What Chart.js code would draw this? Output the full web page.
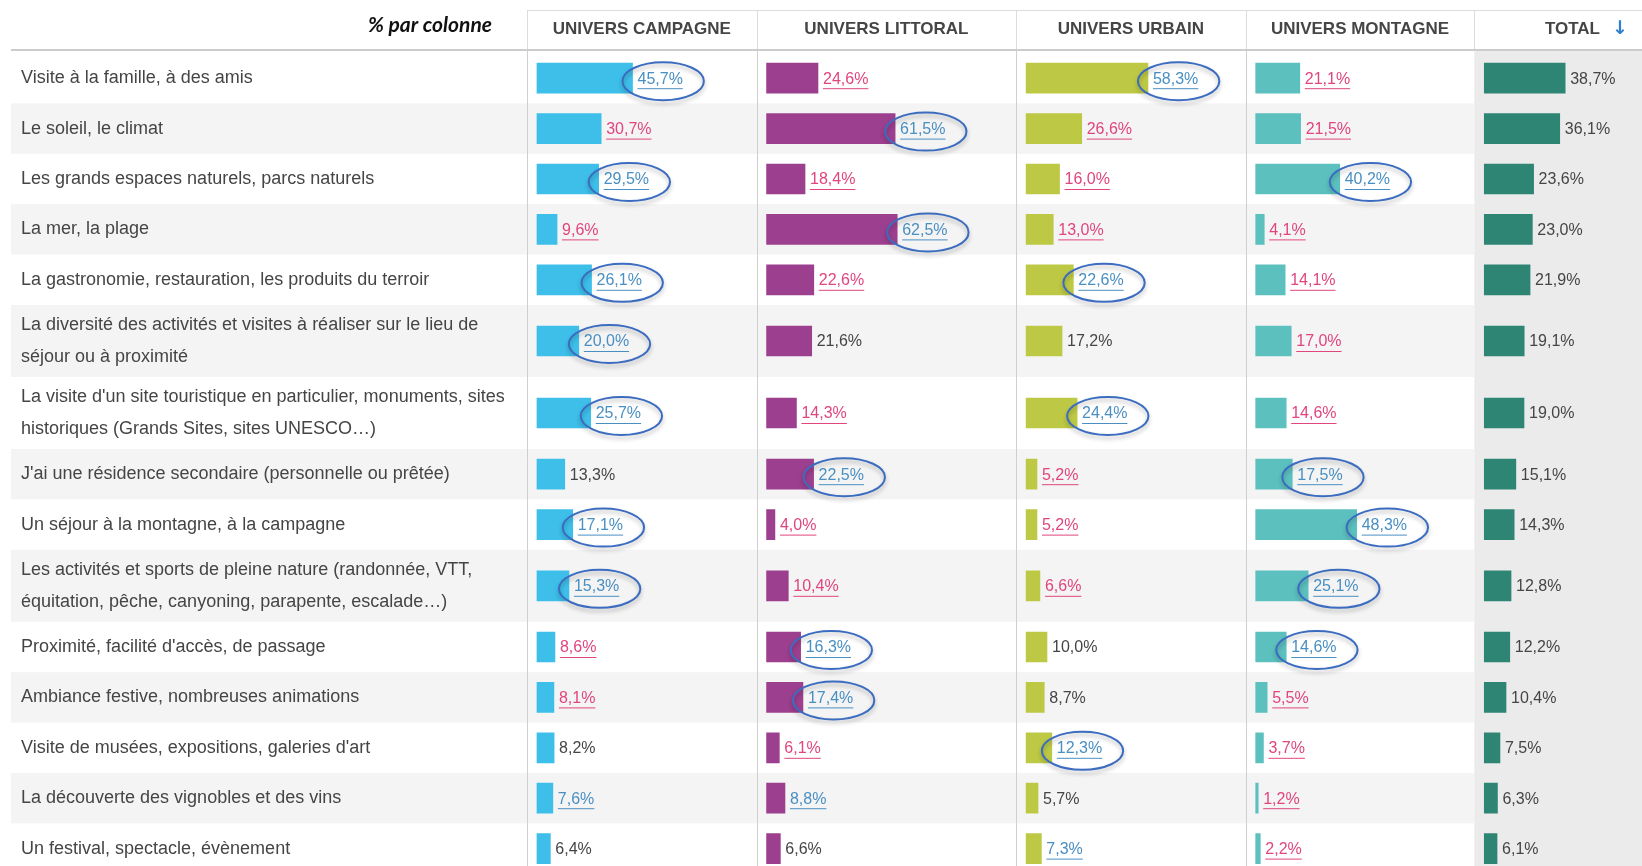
<!DOCTYPE html>
<html lang="fr">
<head>
<meta charset="utf-8">
<title>Motifs de séjour par univers</title>
<script src="https://cdn.jsdelivr.net/npm/chart.js@4.4.1/dist/chart.umd.min.js"></script>
<style>
  html, body { margin:0; padding:0; background:#fff; overflow:hidden; }
  #wrap { position:relative; width:1642px; height:866px; }
</style>
</head>
<body>
<div id="wrap"><canvas id="chart" width="1642" height="866"></canvas></div>
<script>
// --- données ---
const categories = [
  'Visite à la famille, à des amis',
  'Le soleil, le climat',
  'Les grands espaces naturels, parcs naturels',
  'La mer, la plage',
  'La gastronomie, restauration, les produits du terroir',
  ['La diversité des activités et visites à réaliser sur le lieu de', 'séjour ou à proximité'],
  ['La visite d\'un site touristique en particulier, monuments, sites', 'historiques (Grands Sites, sites UNESCO…)'],
  'J\'ai une résidence secondaire (personnelle ou prêtée)',
  'Un séjour à la montagne, à la campagne',
  ['Les activités et sports de pleine nature (randonnée, VTT,', 'équitation, pêche, canyoning, parapente, escalade…)'],
  'Proximité, facilité d\'accès, de passage',
  'Ambiance festive, nombreuses animations',
  'Visite de musées, expositions, galeries d\'art',
  'La découverte des vignobles et des vins',
  'Un festival, spectacle, évènement'
];
const columns  = ['UNIVERS CAMPAGNE', 'UNIVERS LITTORAL', 'UNIVERS URBAIN', 'UNIVERS MONTAGNE', 'TOTAL'];
const campagne = [45.7, 30.7, 29.5, 9.6, 26.1, 20.0, 25.7, 13.3, 17.1, 15.3, 8.6, 8.1, 8.2, 7.6, 6.4];
const littoral = [24.6, 61.5, 18.4, 62.5, 22.6, 21.6, 14.3, 22.5, 4.0, 10.4, 16.3, 17.4, 6.1, 8.8, 6.6];
const urbain   = [58.3, 26.6, 16.0, 13.0, 22.6, 17.2, 24.4, 5.2, 5.2, 6.6, 10.0, 8.7, 12.3, 5.7, 7.3];
const montagne = [21.1, 21.5, 40.2, 4.1, 14.1, 17.0, 14.6, 17.5, 48.3, 25.1, 14.6, 5.5, 3.7, 1.2, 2.2];
const total    = [38.7, 36.1, 23.6, 23.0, 21.9, 19.1, 19.0, 15.1, 14.3, 12.8, 12.2, 10.4, 7.5, 6.3, 6.1];
// o = entouré (sur-représenté), u = souligné bleu, d = souligné rose (sous-représenté), n = neutre
const marksCampagne = 'ododooonooddnun'.split('');
const marksLittoral = 'dododndoddoodun'.split('');
const marksUrbain   = 'odddonodddnnonu'.split('');
const marksMontagne = 'ddoddddoooodddd'.split('');
const marksTotal    = 'nnnnnnnnnnnnnnn'.split('');

const series = [campagne, littoral, urbain, montagne, total];
const marks  = [marksCampagne, marksLittoral, marksUrbain, marksMontagne, marksTotal];
const colors = ['#3dbfe9', '#9c3f8e', '#bdc944', '#5cc0bf', '#2e8574'];

// --- mise en page ---
const W = 1642, H = 866;
const BODY_TOP = 51, CHART_TOP = 53, ROW_H = 50.4, ROW_H2 = 72;
const LEFT_PAD = 21, LABEL_W = 506;
const PX_PER_PCT = 2.094, BAR_INSET = 10;
const colWidths = [230, 260, 230, 229, 168];
const FONT = "'Liberation Sans', Arial, sans-serif";

// hauteur de chaque ligne en unités de ligne simple
const rowUnits = categories.map(c => (Array.isArray(c) ? ROW_H2 : ROW_H) / ROW_H);
const rowBounds = [0];
rowUnits.forEach(u => rowBounds.push(rowBounds[rowBounds.length - 1] + u));
const rowCenters = rowUnits.map((u, i) => rowBounds[i] + u / 2);

const scales = {
  y: {
    type: 'linear', position: 'left', reverse: true, offset: false,
    min: 0, max: (H - CHART_TOP) / ROW_H,
    afterFit: s => { s.width = LABEL_W; s.paddingTop = 0; s.paddingBottom = 0; },
    afterBuildTicks: s => { s.ticks = rowCenters.map(v => ({ value: v })); },
    ticks: {
      autoSkip: false, crossAlign: 'far', padding: 0, color: '#454545',
      font: { family: FONT, size: 18, lineHeight: 1.8 },
      callback: (v, i) => categories[i]
    },
    grid: { display: false, offset: false }, border: { display: false }
  }
};
colWidths.forEach((w, k) => {
  const min = -BAR_INSET / PX_PER_PCT;
  scales['x' + k] = {
    type: 'linear', position: 'bottom', display: false, offset: false,
    stack: 'cols', stackWeight: w,
    min: min, max: min + w / PX_PER_PCT
  };
});

function fmt(v){ return v.toFixed(1).replace('.', ',') + '%'; }

const tablePlugin = {
  id: 'table',
  beforeDraw(chart){
    const ctx = chart.ctx, y = chart.scales.y;
    const xs = colWidths.map((w, k) => chart.scales['x' + k]);
    const totLeft = xs[4].left;
    ctx.save();
    ctx.fillStyle = '#fff';
    ctx.fillRect(0, 0, W, H);

    // lignes alternées
    ctx.fillStyle = '#f4f4f4';
    for (let i = 1; i < categories.length; i += 2) {
      const y0 = y.getPixelForValue(rowBounds[i]);
      const y1 = y.getPixelForValue(rowBounds[i + 1]);
      ctx.fillRect(11, y0, totLeft - 11, y1 - y0);
    }
    // colonne total
    ctx.fillStyle = '#ebebeb';
    ctx.fillRect(totLeft, BODY_TOP, W - totLeft, H - BODY_TOP);

    // filets
    ctx.strokeStyle = '#dcdcdc'; ctx.lineWidth = 1;
    ctx.beginPath();
    ctx.moveTo(xs[0].left, 10.5); ctx.lineTo(W, 10.5);
    xs.forEach(s => { const x = Math.round(s.left) + 0.5; ctx.moveTo(x, 10); ctx.lineTo(x, BODY_TOP); });
    ctx.stroke();
    ctx.strokeStyle = '#cfcfcf';
    ctx.beginPath();
    xs.slice(0, 4).forEach(s => { const x = Math.round(s.left) + 0.5; ctx.moveTo(x, BODY_TOP); ctx.lineTo(x, H); });
    ctx.stroke();
    ctx.strokeStyle = '#cccccc'; ctx.lineWidth = 2;
    ctx.beginPath(); ctx.moveTo(11, 50); ctx.lineTo(W, 50); ctx.stroke();

    // en-têtes
    ctx.fillStyle = '#454545';
    ctx.font = 'bold 17px ' + FONT;
    ctx.textBaseline = 'middle';
    xs.forEach((s, k) => {
      if (k < 4) {
        ctx.textAlign = 'center';
        ctx.fillText(columns[k], (s.left + s.right) / 2, 29);
      } else {
        ctx.textAlign = 'right';
        ctx.fillText(columns[k], s.right - 42, 29);
      }
    });
    ctx.fillStyle = '#2f7fd0';
    ctx.font = 'bold 19px DejaVu Sans';
    ctx.textAlign = 'center';
    ctx.fillText('↓', xs[4].right - 22, 29);

    ctx.fillStyle = '#111';
    ctx.font = "italic bold 21px Lato, 'Open Sans', sans-serif";
    ctx.textAlign = 'right';
    ctx.fillText('% par colonne', 492, 25);
    ctx.restore();
  },
  afterDatasetsDraw(chart){
    const ctx = chart.ctx;
    ctx.save();
    ctx.font = '16px ' + FONT;
    ctx.textBaseline = 'middle';
    ctx.textAlign = 'left';
    chart.data.datasets.forEach((ds, k) => {
      chart.getDatasetMeta(k).data.forEach((el, i) => {
        const m = marks[k][i];
        const txt = fmt(series[k][i]);
        const x = el.x + 5, ty = el.y + 1;
        const w = ctx.measureText(txt).width;
        const col = (m === 'o' || m === 'u') ? '#4a8fc2' : (m === 'd' ? '#e0457e' : '#454545');
        ctx.fillStyle = col;
        ctx.fillText(txt, x, ty);
        if (m !== 'n') {
          ctx.strokeStyle = col; ctx.lineWidth = 1;
          ctx.beginPath(); ctx.moveTo(x, ty + 9.5); ctx.lineTo(x + w, ty + 9.5); ctx.stroke();
        }
        if (m === 'o') {
          ctx.save();
          ctx.shadowColor = 'rgba(0,0,0,0.28)';
          ctx.shadowBlur = 4; ctx.shadowOffsetY = 3;
          ctx.strokeStyle = '#3b6cc0'; ctx.lineWidth = 2;
          ctx.beginPath();
          ctx.ellipse(x + w / 2 + 3, el.y + 3, w / 2 + 18, 19, 0, 0, Math.PI * 2);
          ctx.stroke();
          ctx.restore();
        }
      });
    });
    ctx.restore();
  }
};

new Chart(document.getElementById('chart'), {
  type: 'bar',
  data: {
    datasets: series.map((vals, k) => ({
      label: columns[k],
      data: vals.map((v, i) => ({ x: v, y: rowCenters[i] })),
      xAxisID: 'x' + k,
      backgroundColor: colors[k],
      borderWidth: 0,
      barThickness: 30,
      grouped: false
    }))
  },
  options: {
    indexAxis: 'y',
    responsive: false,
    animation: false,
    devicePixelRatio: 1,
    layout: { padding: { left: LEFT_PAD, top: CHART_TOP, right: 0, bottom: 0 } },
    plugins: { legend: { display: false }, tooltip: { enabled: false } },
    scales
  },
  plugins: [tablePlugin]
});
</script>
</body>
</html>
